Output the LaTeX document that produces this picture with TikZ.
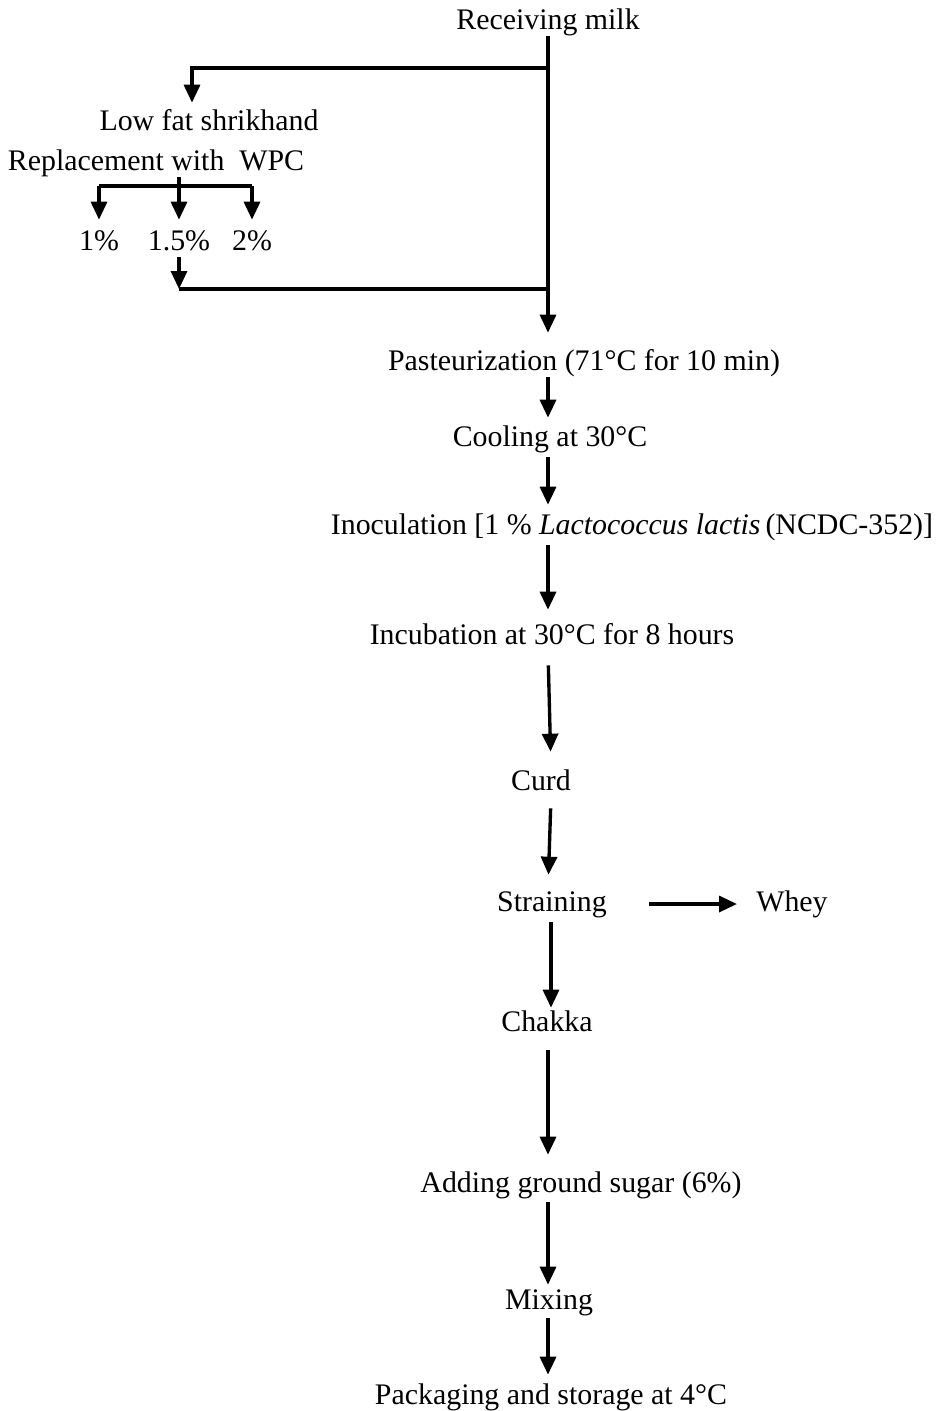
\documentclass[tikz,border=0pt]{standalone}
\usepackage{fontspec}
\setmainfont{Liberation Serif}
\usetikzlibrary{arrows.meta}
\tikzstyle{stage} = [inner sep=0pt, anchor=base, text height=0.42cm, text depth=0.14cm, font=\fontsize{17}{20}\selectfont]
\tikzstyle{link} = [line width=1.9pt]
\tikzstyle{arrow} = [line width=1.9pt, -{Triangle[length=0.36cm,width=0.32cm]}]

\begin{document}
\begin{tikzpicture}[x=0.02cm, y=-0.02cm]
\useasboundingbox (0,0) rectangle (940,1411);
\coordinate (axis) at (548,0);
\node (milk) [stage] at (548,29) {Receiving milk};
\node (lowfat) [stage] at (209,130) {Low fat shrikhand};
\node (repl) [stage] at (156,170) {Replacement with~ WPC};
\node (p1) [stage] at (99,250) {1\%};
\node (p15) [stage] at (179,250) {1.5\%};
\node (p2) [stage] at (252,250) {2\%};
\node (past) [stage] at (584,370) {Pasteurization (71°C for 10 min)};
\node (cool) [stage] at (550,446) {Cooling at 30°C};
\node (inoc) [stage] at (632,534) {Inoculation [1 \% \textit{Lactococcus lactis}\,(NCDC-352)]};
\node (incub) [stage] at (552,644) {Incubation at 30°C for 8 hours};
\node (curd) [stage] at (541,790) {Curd};
\node (strain) [stage] at (552,911) {Straining};
\node (whey) [stage] at (792,911) {Whey};
\node (chakka) [stage] at (547,1031) {Chakka};
\node (sugar) [stage] at (581,1192) {Adding ground sugar (6\%)};
\node (mixing) [stage] at (549,1309) {Mixing};
\node (pack) [stage] at (551,1404) {Packaging and storage at 4°C};

% side branch for the WPC samples
\coordinate (split) at (548,68);
\coordinate (fork) at (180,186);
\coordinate (join) at (548,289);
\draw [arrow, shorten >=0.32cm] (axis |- milk.south) -- (axis |- past.north);
\draw [arrow, shorten >=0.12cm] (split) -| ([xshift=-0.34cm]lowfat.north);
\draw [arrow, shorten >=0.18cm] (p15.north |- repl.south) -- (p15.north);
\draw [link] (fork -| p1.north) -- (fork -| p2.north);
\draw [arrow, shorten >=0.18cm] (fork -| p1.north) -- (p1.north);
\draw [arrow, shorten >=0.18cm] (fork -| p2.north) -- (p2.north);
\draw [arrow] (p15.south) -- (p15.south |- join);
\draw [link] (p15.south |- join) -- (join);

% main line
\draw [arrow, shorten >=0.14cm] (axis |- past.south) -- (axis |- cool.north);
\draw [arrow, shorten <=0.08cm, shorten >=0.16cm] (axis |- cool.south) -- (axis |- inoc.north);
\draw [arrow, shorten <=0.08cm, shorten >=0.26cm] (axis |- inoc.south) -- (axis |- incub.north);
\draw [arrow, shorten <=0.28cm, shorten >=0.34cm] (axis |- incub.south) -- ([xshift=0.06cm]axis |- curd.north);
\draw [arrow, shorten <=0.22cm, shorten >=0.3cm] ([xshift=0.06cm]axis |- curd.south) -- (axis |- strain.north);
\draw [arrow, shorten <=0.84cm, shorten >=0.38cm] (strain.east) -- (whey.west);
\draw [arrow, shorten <=0.08cm, shorten >=0.04cm] ([xshift=0.06cm]axis |- strain.south) -- ([xshift=0.06cm]axis |- chakka.north);
\draw [arrow, shorten <=0.24cm, shorten >=0.32cm] (axis |- chakka.south) -- (axis |- sugar.north);
\draw [arrow, shorten <=0.06cm, shorten >=0.06cm] (axis |- sugar.south) -- (axis |- mixing.north);
\draw [arrow, shorten <=0.04cm, shorten >=0.16cm] (axis |- mixing.south) -- (axis |- pack.north);
\end{tikzpicture}
\end{document}
